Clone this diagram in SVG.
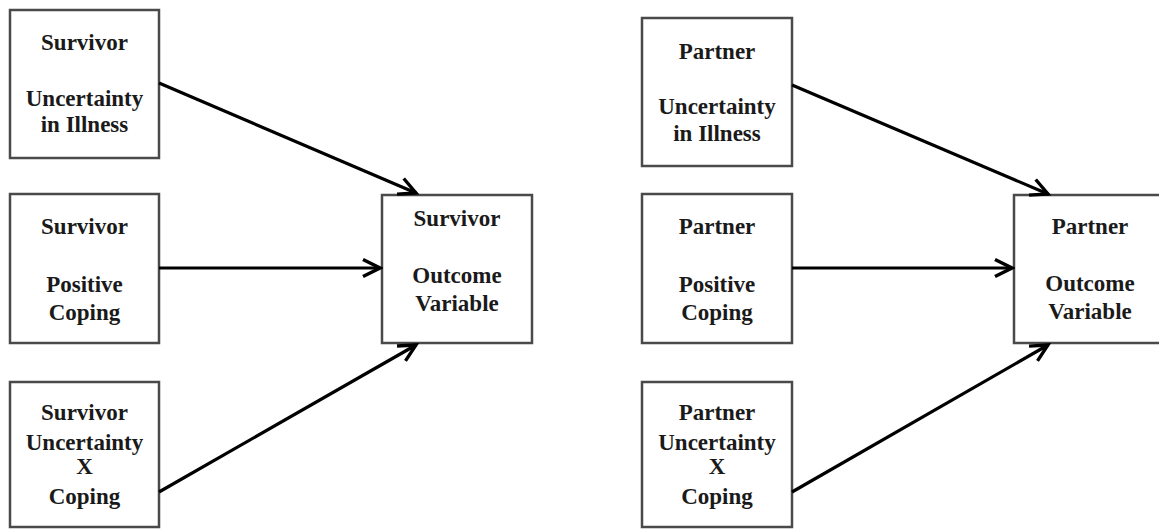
<svg xmlns="http://www.w3.org/2000/svg" width="1159" height="529" viewBox="0 0 1159 529">
  <style>
    .box { fill: #ffffff; stroke: #4a4a4a; stroke-width: 2.5; }
    .lbl { font-family: "Liberation Serif", "Times New Roman", serif; font-size: 23px; font-weight: bold; fill: #1a1a1a; text-anchor: middle; }
    .edge { stroke: #000000; stroke-width: 3.2; fill: none; marker-end: url(#head); }
  </style>
  <defs>
    <marker id="head" markerUnits="userSpaceOnUse" markerWidth="24" markerHeight="24" viewBox="0 0 24 24" refX="21" refY="12" orient="auto">
      <path d="M4,3.5 L21,12 L4,20.5" fill="none" stroke="#000000" stroke-width="3.4" stroke-linejoin="miter"/>
    </marker>
  </defs>
  <rect width="1159" height="529" fill="#ffffff"/>

  <!-- Survivor model -->
  <g id="survivor-uncertainty">
    <rect class="box" x="10" y="10" width="149" height="148"/>
    <text class="lbl" x="84.5" y="50">Survivor</text>
    <text class="lbl" x="84.5" y="106">Uncertainty</text>
    <text class="lbl" x="84.5" y="132">in Illness</text>
  </g>
  <g id="survivor-coping">
    <rect class="box" x="10" y="194" width="149" height="149"/>
    <text class="lbl" x="84.5" y="234">Survivor</text>
    <text class="lbl" x="84.5" y="292">Positive</text>
    <text class="lbl" x="84.5" y="320">Coping</text>
  </g>
  <g id="survivor-interaction">
    <rect class="box" x="10" y="382" width="149" height="145"/>
    <text class="lbl" x="84.5" y="420">Survivor</text>
    <text class="lbl" x="84.5" y="450">Uncertainty</text>
    <text class="lbl" x="84.5" y="474">X</text>
    <text class="lbl" x="84.5" y="504">Coping</text>
  </g>
  <g id="survivor-outcome">
    <rect class="box" x="382" y="195" width="150" height="148"/>
    <text class="lbl" x="457" y="226">Survivor</text>
    <text class="lbl" x="457" y="283">Outcome</text>
    <text class="lbl" x="457" y="311">Variable</text>
  </g>

  <!-- Partner model -->
  <g id="partner-uncertainty">
    <rect class="box" x="642" y="18" width="150" height="148"/>
    <text class="lbl" x="717" y="59">Partner</text>
    <text class="lbl" x="717" y="114">Uncertainty</text>
    <text class="lbl" x="717" y="141">in Illness</text>
  </g>
  <g id="partner-coping">
    <rect class="box" x="642" y="194" width="150" height="149"/>
    <text class="lbl" x="717" y="234">Partner</text>
    <text class="lbl" x="717" y="292">Positive</text>
    <text class="lbl" x="717" y="320">Coping</text>
  </g>
  <g id="partner-interaction">
    <rect class="box" x="642" y="382" width="150" height="145"/>
    <text class="lbl" x="717" y="420">Partner</text>
    <text class="lbl" x="717" y="450">Uncertainty</text>
    <text class="lbl" x="717" y="474">X</text>
    <text class="lbl" x="717" y="504">Coping</text>
  </g>
  <g id="partner-outcome">
    <rect class="box" x="1014" y="195" width="150" height="148"/>
    <text class="lbl" x="1090" y="234">Partner</text>
    <text class="lbl" x="1090" y="291">Outcome</text>
    <text class="lbl" x="1090" y="319">Variable</text>
  </g>

  <g id="connectors">
    <line class="edge" x1="159" y1="83" x2="416" y2="193"/>
    <line class="edge" x1="159" y1="268" x2="380" y2="268"/>
    <line class="edge" x1="159" y1="492" x2="416" y2="345"/>
    <line class="edge" x1="792" y1="85" x2="1048" y2="194"/>
    <line class="edge" x1="792" y1="268" x2="1012" y2="268"/>
    <line class="edge" x1="792" y1="492" x2="1048" y2="345"/>
  </g>
</svg>
